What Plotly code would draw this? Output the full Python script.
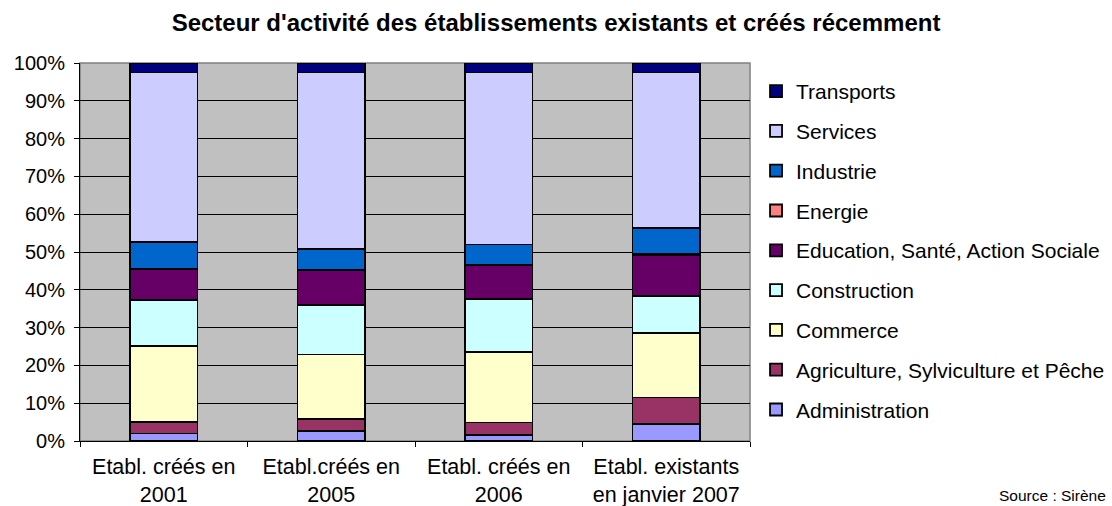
import plotly.graph_objects as go

categories = ["Etabl. créés en<br>2001", "Etabl.créés en<br>2005", "Etabl. créés en<br>2006", "Etabl. existants<br>en janvier 2007"]

administration = [2.0, 2.6, 1.6, 4.4]
agriculture = [3.1, 3.3, 3.3, 7.1]
commerce = [20.1, 17.0, 18.7, 17.0]
construction = [12.1, 13.1, 14.0, 9.9]
education = [8.2, 9.2, 9.0, 10.8]
energie = [0.1, 0.1, 0.1, 0.3]
industrie = [7.1, 5.4, 5.3, 6.9]
services = [44.8, 46.8, 45.5, 41.1]
transports = [2.5, 2.5, 2.5, 2.5]

series = [
    ("Administration", administration, "#9999FF"),
    ("Agriculture, Sylviculture et Pêche", agriculture, "#993366"),
    ("Commerce", commerce, "#FFFFCC"),
    ("Construction", construction, "#CCFFFF"),
    ("Education, Santé, Action Sociale", education, "#660066"),
    ("Energie", energie, "#FF8080"),
    ("Industrie", industrie, "#0066CC"),
    ("Services", services, "#CCCCFF"),
    ("Transports", transports, "#000080"),
]

fig = go.Figure()
n = len(series)
for i, (name, vals, color) in enumerate(series):
    fig.add_trace(go.Bar(
        x=categories, y=vals, name=name, legendgroup=name,
        legendrank=n - i,
        marker=dict(color=color, line=dict(color="black", width=1.8)),
        width=0.404,
    ))

font_family = "Liberation Sans, Arial, sans-serif"
fig.update_layout(
    barmode="stack",
    width=1112, height=506,
    margin=dict(l=80, r=362, t=63, b=65, autoexpand=False),
    paper_bgcolor="white",
    plot_bgcolor="#C0C0C0",
    font=dict(family=font_family, size=20, color="black"),
    title=dict(text="<b>Secteur d'activité des établissements existants et créés récemment</b>",
               xref="container", x=0.5, xanchor="center", yref="container", y=0.956, yanchor="middle",
               font=dict(size=24, family=font_family)),
    legend=dict(traceorder="grouped", x=1.009, xanchor="left", xref="paper",
                y=0.979, yanchor="top", tracegroupgap=9.5, maxheight=480,
                font=dict(size=21), bgcolor="rgba(0,0,0,0)"),
    yaxis=dict(range=[0, 100], tickvals=list(range(0, 101, 10)),
               ticktext=[f"{v}%" for v in range(0, 101, 10)],
               showgrid=True, gridcolor="#000000", gridwidth=1,
               showline=True, linecolor="black", ticks="outside", ticklen=5,
               tickcolor="black", mirror=False, zeroline=False, automargin=False,
               ticklabelstandoff=5, tickfont=dict(size=20)),
    xaxis=dict(showline=True, linecolor="black", ticks="outside", ticklen=5,
               tickcolor="black", tickson="boundaries", automargin=False,
               ticklabelstandoff=6, tickfont=dict(size=21.5)),
    bargap=0.6,
    shapes=[dict(type="rect", xref="paper", yref="paper", x0=0, x1=1, y0=0, y1=1,
                 line=dict(color="#808080", width=1.5), fillcolor="rgba(0,0,0,0)", layer="below")],
    annotations=[dict(text="Source : Sirène", xref="paper", yref="paper", x=1.0, y=0.0,
                      xanchor="right", yanchor="middle", showarrow=False, xshift=358, yshift=-54,
                      font=dict(size=15.5))],
)

fig.write_html("out.html", config={"displayModeBar": False},
               post_script="document.body.style.margin='0px';document.body.style.overflow='hidden';")
